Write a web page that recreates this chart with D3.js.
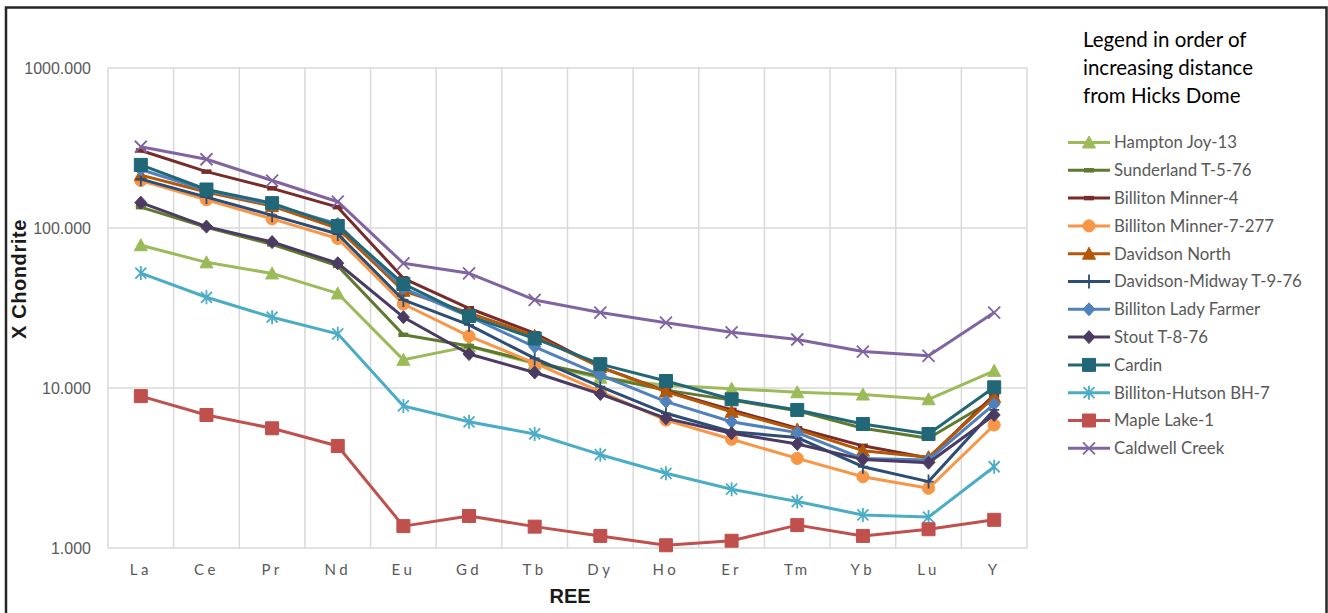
<!DOCTYPE html>
<html>
<head>
<meta charset="utf-8">
<script src="https://cdn.jsdelivr.net/npm/d3@7"></script>
<style>
  html, body { margin: 0; padding: 0; background: #fff; }
  svg { display: block; }
</style>
</head>
<body>
<svg id="chart" width="1328" height="613"></svg>
<script>
// Rare earth elements along the x axis
const categories = ["La","Ce","Pr","Nd","Eu","Gd","Tb","Dy","Ho","Er","Tm","Yb","Lu","Y"];

// Chondrite-normalised concentrations, one array per sample
const hamptonJoy13     = [78, 61, 52, 39, 15.0, 18.2, 14.2, 11.6, 10.4, 9.9, 9.4, 9.1, 8.5, 12.8];
const sunderlandT576   = [135, 101, 79, 58, 21.5, 18.3, 14.5, 11.8, 9.7, 8.4, 7.2, 5.6, 4.85, 8.5];
const billitonMinner4  = [305, 225, 177, 135, 48.5, 31.5, 22.0, 13.5, 9.6, 7.3, 5.6, 4.35, 3.65, 9.05];
const billitonMinner7  = [198, 150, 114, 86, 33.5, 21.1, 14.3, 9.5, 6.3, 4.78, 3.63, 2.79, 2.36, 5.87];
const davidsonNorth    = [214, 168, 137, 99.5, 40.5, 29.5, 21.2, 13.5, 9.5, 7.1, 5.5, 4.06, 3.69, 8.8];
const davidsonMidway   = [202, 156, 120, 91.7, 35.5, 24.8, 15.3, 10.2, 6.95, 5.33, 4.9, 3.22, 2.6, 7.3];
const billitonLady     = [232, 172, 140, 106, 42, 28, 18.1, 12.05, 8.22, 6.15, 5.26, 3.62, 3.55, 7.94];
const stoutT876        = [144, 102, 81.7, 60.2, 27.7, 16.3, 12.5, 9.17, 6.46, 5.21, 4.47, 3.58, 3.41, 6.78];
const cardin           = [248, 174, 143, 103, 44.7, 28.2, 20.4, 14.1, 11.06, 8.5, 7.29, 5.96, 5.16, 10.1];
const billitonHutson   = [52.3, 36.9, 27.7, 21.8, 7.72, 6.15, 5.16, 3.83, 2.93, 2.33, 1.95, 1.61, 1.56, 3.22];
const mapleLake1       = [8.9, 6.78, 5.6, 4.34, 1.37, 1.585, 1.36, 1.19, 1.04, 1.11, 1.39, 1.19, 1.31, 1.50];
const caldwellCreek    = [322, 269, 198, 146, 60.2, 52.1, 35.5, 29.6, 25.6, 22.3, 20.1, 16.9, 15.9, 29.6];

// Series names (legend order) and y-axis tick values
const seriesNames = ["Hampton Joy-13","Sunderland T-5-76","Billiton Minner-4","Billiton Minner-7-277",
  "Davidson North","Davidson-Midway T-9-76","Billiton Lady Farmer","Stout T-8-76","Cardin",
  "Billiton-Hutson BH-7","Maple Lake-1","Caldwell Creek"];
const seriesValues = [hamptonJoy13, sunderlandT576, billitonMinner4, billitonMinner7, davidsonNorth,
  davidsonMidway, billitonLady, stoutT876, cardin, billitonHutson, mapleLake1, caldwellCreek];
const yTicks = [1, 10, 100, 1000];
const legendTitle = ["Legend in order of", "increasing distance", "from Hicks Dome"];

// Styling per series
const seriesColors = ["#9BBB59","#5F7A2E","#772C2A","#F79646","#B65708","#2C4D75",
  "#4F81BD","#4B3A62","#226777","#4BACC6","#C0504D","#8064A2"];
const seriesMarkers = ["triangle","dash","dash","circle","triangle","plus",
  "diamond","diamond","square","star","square","x"];

const series = seriesNames.map((name, i) => ({
  name, values: seriesValues[i], color: seriesColors[i], marker: seriesMarkers[i]
}));

const svg = d3.select("#chart");

// Plot area geometry
const plot = { left: 108, right: 1027, top: 68, bottom: 548 };

const x = d3.scaleBand().domain(categories).range([plot.left, plot.right]).paddingInner(0).paddingOuter(0);
const y = d3.scaleLog().domain([1, 1000]).range([plot.bottom, plot.top]);

// Outer frame
svg.append("path")
  .attr("d", "M6,613 L6,7.5 L1326.5,7.5 L1326.5,613")
  .attr("fill", "none").attr("stroke", "#262626").attr("stroke-width", 2.5);

// Gridlines
const grid = svg.append("g").attr("stroke", "#D9D9D9").attr("stroke-width", 1.5);
const bounds = categories.map(c => x(c)).concat([plot.right]);
grid.selectAll("line.v").data(bounds).join("line")
  .attr("x1", d => d).attr("x2", d => d)
  .attr("y1", plot.top).attr("y2", plot.bottom);
grid.selectAll("line.h").data(yTicks).join("line")
  .attr("x1", plot.left).attr("x2", plot.right)
  .attr("y1", d => y(d)).attr("y2", d => y(d));

// Y axis labels
const yAxis = d3.axisLeft(y).tickValues(yTicks).tickFormat(d3.format(".3f")).tickSize(0).tickPadding(17);
const yg = svg.append("g").attr("transform", `translate(${plot.left},0)`).call(yAxis);
yg.select(".domain").remove();
yg.selectAll("text")
  .attr("fill", "#595959")
  .style("font-family", "'Liberation Sans', Arial, sans-serif")
  .style("font-size", "16px");

// X axis labels
const xAxis = d3.axisBottom(x).tickSize(0).tickPadding(16);
const xg = svg.append("g").attr("transform", `translate(0,${plot.bottom})`).call(xAxis);
xg.select(".domain").remove();
xg.selectAll("text")
  .attr("fill", "#595959")
  .style("font-family", "Lato, 'Open Sans', sans-serif")
  .style("font-size", "15px")
  .style("letter-spacing", "3.5px");

// Axis titles
svg.append("text")
  .attr("x", 570).attr("y", 603)
  .attr("text-anchor", "middle")
  .style("font-family", "'Liberation Sans', Arial, sans-serif")
  .style("font-weight", "bold").style("font-size", "20px")
  .attr("fill", "#1A1A1A")
  .text("REE");

svg.append("text")
  .attr("transform", "translate(26,279) rotate(-90)")
  .attr("text-anchor", "middle")
  .style("font-family", "'Liberation Sans', Arial, sans-serif")
  .style("font-weight", "bold").style("font-size", "20px")
  .style("letter-spacing", "0.6px")
  .attr("fill", "#1A1A1A")
  .text("X Chondrite");

// Marker path generator, centred on the origin
function markerPath(type) {
  switch (type) {
    case "triangle": return "M0,-6.5 L6.5,5.5 L-6.5,5.5 Z";
    case "square":   return "M-6.5,-6.5 H6.5 V6.5 H-6.5 Z";
    case "circle":   return d3.symbol(d3.symbolCircle, 115)();
    case "diamond":  return "M0,-6.5 L6,0 L0,6.5 L-6,0 Z";
    case "x":        return "M-6,-6 L6,6 M-6,6 L6,-6";
    case "star":     return "M-5.5,-5.5 L5.5,5.5 M-5.5,5.5 L5.5,-5.5 M0,-7 L0,7";
    case "plus":     return "M0,-7 L0,7 M-5,0 L5,0";
    case "dash":     return "M-5,0 L5,0";
  }
}
const strokeOnly = t => t === "x" || t === "star" || t === "plus" || t === "dash";

function drawMarker(g, type, color) {
  const p = g.append("path").attr("d", markerPath(type));
  if (strokeOnly(type)) {
    p.attr("fill", "none").attr("stroke", color)
     .attr("stroke-width", type === "dash" ? 4.5 : 1.8);
  } else {
    p.attr("fill", color).attr("stroke", color).attr("stroke-width", 1);
  }
}

const line = d3.line()
  .x((d, i) => x(categories[i]) + x.bandwidth() / 2)
  .y(d => y(d));

// Series lines and markers, drawn in legend order
const sg = svg.append("g");
series.forEach(s => {
  const g = sg.append("g");
  g.append("path")
    .attr("d", line(s.values))
    .attr("fill", "none").attr("stroke", s.color)
    .attr("stroke-width", 3).attr("stroke-linejoin", "round");
  s.values.forEach((v, i) => {
    const mg = g.append("g")
      .attr("transform", `translate(${x(categories[i]) + x.bandwidth() / 2},${y(v)})`);
    drawMarker(mg, s.marker, s.color);
  });
});

// Legend
const lg = svg.append("g");
lg.selectAll("text.title").data(legendTitle).join("text")
  .attr("x", 1083).attr("y", (d, i) => 47 + i * 28)
  .style("font-family", "Lato, 'Open Sans', sans-serif")
  .style("font-size", "20.5px")
  .attr("fill", "#000")
  .text(d => d);

series.forEach((s, i) => {
  const cy = 142.5 + i * 27.8;
  const item = lg.append("g");
  item.append("line")
    .attr("x1", 1068).attr("x2", 1110).attr("y1", cy).attr("y2", cy)
    .attr("stroke", s.color).attr("stroke-width", 3);
  drawMarker(item.append("g").attr("transform", `translate(1089,${cy})`), s.marker, s.color);
  item.append("text")
    .attr("x", 1114).attr("y", cy).attr("dy", "0.35em")
    .style("font-family", "Lato, 'Open Sans', sans-serif")
    .style("font-size", "16.8px")
    .attr("fill", "#595959")
    .text(s.name);
});
</script>
</body>
</html>
